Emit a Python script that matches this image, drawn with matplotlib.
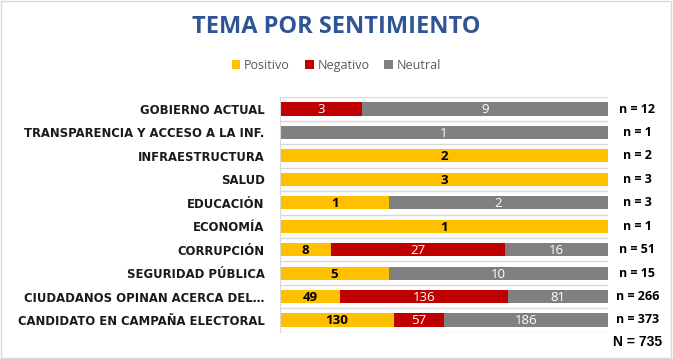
import numpy as np
import matplotlib.pyplot as plt
from matplotlib.patches import Rectangle

# data (top to bottom as in the chart)
temas = ["GOBIERNO ACTUAL", "TRANSPARENCIA Y ACCESO A LA INF.", "INFRAESTRUCTURA",
         "SALUD", "EDUCACIÓN", "ECONOMÍA", "CORRUPCIÓN", "SEGURIDAD PÚBLICA",
         "CIUDADANOS OPINAN ACERCA DEL…", "CANDIDATO EN CAMPAÑA ELECTORAL"]
positivo = [0, 0, 2, 3, 1, 1, 8, 5, 49, 130]
negativo = [3, 0, 0, 0, 0, 0, 27, 0, 136, 57]
neutral = [9, 1, 0, 0, 2, 0, 16, 10, 81, 186]
total_label = "N = 735"

series = [("Positivo", positivo, "#FFC000", "black", "bold"),
          ("Negativo", negativo, "#C00000", "white", "normal"),
          ("Neutral", neutral, "#808080", "white", "normal")]

pos = np.array(positivo, float)
neg = np.array(negativo, float)
neu = np.array(neutral, float)
n = pos + neg + neu

fig = plt.figure(figsize=(6.73, 3.59), dpi=100)
ax = fig.add_axes([0.416, 0.076, 0.487, 0.653])

y = np.arange(len(temas))
left = np.zeros(len(temas))
for name, vals, color, tcolor, weight in series:
    vals = np.array(vals, float)
    share = vals / n
    ax.barh(y, share, left=left, height=0.56, color=color, label=name)
    for i in range(len(temas)):
        if vals[i] > 0:
            ax.text(left[i] + share[i] / 2, y[i] + 0.04, f"{int(vals[i])}",
                    ha="center", va="center", fontsize=9.5, color=tcolor,
                    fontweight=weight, family="Open Sans")
    left += share

# n labels on the right
for i in range(len(temas)):
    ax.text(1.09, y[i], f"n = {int(n[i])}", transform=ax.get_yaxis_transform(),
            ha="center", va="center", fontsize=9, fontweight="bold", family="Open Sans")

ax.set_xlim(0, 1)
ax.set_ylim(len(temas) - 0.5, -0.5)
ax.set_yticks(y)
ax.set_yticklabels(temas, fontsize=8.4, fontweight="bold", family="DejaVu Sans",
                   color="#1a1a1a")
ax.tick_params(axis="y", length=0, pad=11)
ax.set_xticks([])
ax.set_yticks(np.arange(-0.5, len(temas)), minor=True)
ax.tick_params(axis="y", which="minor", length=0)
ax.grid(axis="y", which="minor", color="#D9D9D9", linewidth=1)
ax.set_axisbelow(True)
for s in ["top", "right", "bottom"]:
    ax.spines[s].set_visible(False)
ax.spines["left"].set_color("#D9D9D9")

fig.text(0.5, 0.925, "TEMA POR SENTIMIENTO", ha="center", va="center",
         fontsize=17, fontweight="bold", color="#2F5597", family="Open Sans")

leg = fig.legend(loc="center", bbox_to_anchor=(0.5, 0.818), ncol=3, frameon=False,
                 handlelength=0.7, handleheight=0.7, handletextpad=0.3,
                 columnspacing=1.2, prop={"family": "Open Sans", "size": 9})
for t in leg.get_texts():
    t.set_color("#595959")

fig.text(0.984, 0.047, total_label, ha="right", va="center", fontsize=10,
         fontweight="bold", family="Liberation Sans")

fig.patches.append(Rectangle((0.002, 0.003), 0.995, 0.993, transform=fig.transFigure,
                             fill=False, edgecolor="#D9D9D9", linewidth=1))

fig.savefig("out.png", dpi=100)
